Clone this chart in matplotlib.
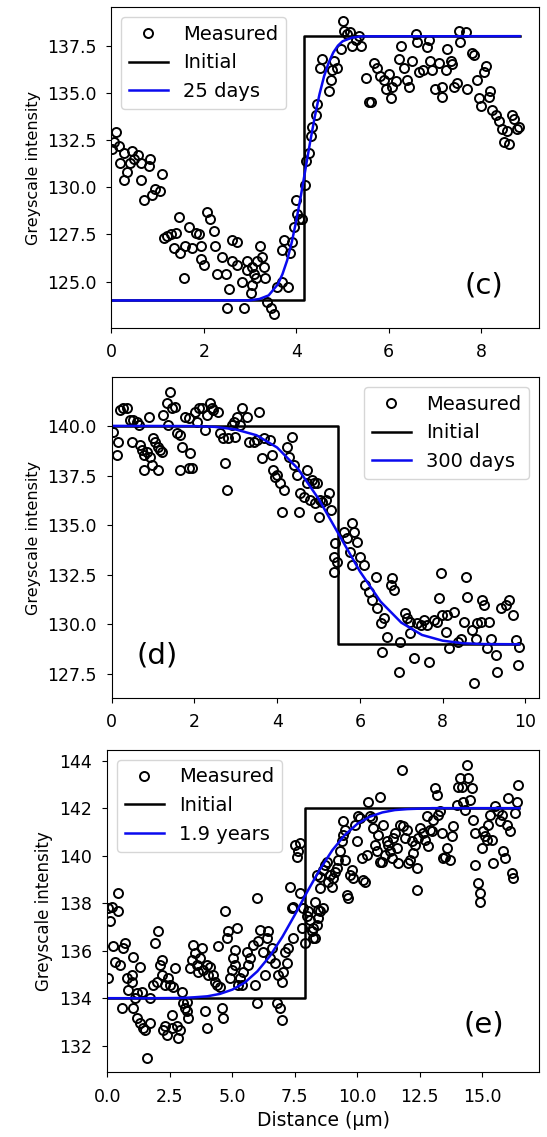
import matplotlib
matplotlib.use('Agg')
import matplotlib.pyplot as plt
from matplotlib.ticker import MultipleLocator

# ---------------- panel (c) : 25 days ----------------
c_x = [0.09, 0.05, 0.16, 0.01, 0.27, 0.45, 0.57, 0.19, 0.40, 0.48, 0.63, 0.84, 0.81, 0.34, 0.28, 0.64, 1.10, 0.95, 1.05, 0.88, 0.70,
       1.13, 1.20, 1.28, 1.39, 1.46, 1.35, 1.49, 1.60, 1.57, 1.67, 1.75, 1.82, 1.89, 1.93, 1.93, 2.00, 2.07, 2.14, 2.22, 2.25,
       2.29, 2.47, 2.40, 2.54, 2.50, 2.61, 2.72, 2.61, 2.72, 2.83, 2.86, 2.94, 2.94, 3.04, 3.08, 3.15, 3.21, 3.26, 3.30, 3.12,
       3.04, 3.01, 3.33, 3.37, 3.46, 3.51, 3.59, 3.69, 3.82, 3.73, 3.69, 3.87, 3.91, 3.95, 4.02, 4.05, 4.13, 4.00, 4.18, 4.20,
       4.27, 4.31, 4.34, 4.42, 4.45,
       4.52, 4.56, 4.70, 4.74, 4.78, 4.81, 4.88, 4.96, 5.01, 5.03, 5.10, 5.17, 5.21, 5.28, 5.35, 5.39, 5.50, 5.57, 5.61, 5.68,
       5.75, 5.82, 5.89, 5.93, 6.00, 6.04, 6.08, 6.15, 6.22, 6.26, 6.33, 6.40, 6.44, 6.51, 6.58, 6.62, 6.65, 6.73, 6.83, 6.87,
       6.90, 6.94, 7.01, 7.08, 7.16, 7.16, 7.23, 7.27, 7.34, 7.37, 7.41, 7.48, 7.52, 7.55, 7.66, 7.70, 7.81, 7.84, 7.91, 7.95,
       7.99, 8.06, 8.10, 8.17, 8.20, 8.24, 8.31, 8.38, 8.46, 8.49, 8.60, 8.67, 8.71, 8.78, 8.82, 8.56]
c_y = [132.9, 132.4, 132.2, 132.0, 131.8, 131.9, 131.7, 131.3, 131.3, 131.5, 131.3, 131.5, 131.1, 130.8, 130.4, 130.4, 130.7, 129.9, 129.8, 129.6, 129.3,
       127.3, 127.4, 127.5, 127.6, 128.4, 126.8, 126.5, 126.9, 125.2, 127.9, 126.8, 127.6, 127.5, 126.9, 126.2, 125.9, 128.7, 128.3, 127.7, 126.9,
       125.4, 125.4, 126.3, 124.6, 123.6, 127.2, 127.1, 126.1, 125.9, 125.0, 123.6, 126.1, 125.6, 125.8, 125.4, 126.1, 126.9, 126.3, 125.8, 125.2,
       124.8, 124.4, 125.2, 123.9, 123.6, 123.3, 124.7, 125.0, 124.7, 127.2, 126.7, 126.5, 127.1, 127.9, 128.6, 128.3, 128.3, 129.3, 130.1, 131.4,
       131.8, 132.7, 133.2, 133.8, 134.4,
       136.3, 136.8, 135.1, 135.7, 136.2, 136.7, 136.3, 137.3, 138.8, 138.3, 138.1, 138.2, 137.5, 137.8, 138.0, 137.5, 135.8, 134.5, 134.5, 136.6,
       136.3, 135.9, 135.7, 135.2, 136.0, 134.7, 135.3, 135.6, 136.8, 137.5, 136.3, 135.7, 135.3, 136.7, 138.1, 137.7, 136.1, 136.2, 137.4, 137.8,
       136.7, 136.2, 135.2, 136.6, 134.8, 135.3, 136.2, 137.3, 136.7, 136.5, 135.3, 135.5, 138.3, 137.7, 138.2, 135.2, 137.1, 137.0, 135.7, 134.7,
       134.3, 136.1, 136.4, 134.8, 135.1, 134.1, 133.8, 133.5, 133.1, 132.4, 132.3, 133.8, 133.6, 133.1, 133.2, 133.0]
c_init_x = [0, 4.17, 4.17, 8.83]
c_init_y = [124, 124, 138, 138]
c_fit_x = [0, 3.0, 3.2, 3.4, 3.6, 3.7, 3.8, 3.9, 4.0, 4.1, 4.2, 4.3, 4.4, 4.5, 4.6, 4.7, 4.8, 4.9, 5.0, 5.2, 5.4, 8.83]
c_fit_y = [124.0, 124.01, 124.08, 124.27, 124.86, 125.40, 126.12, 127.08, 128.25, 129.58, 131.0, 132.42, 133.75, 134.92,
           135.88, 136.60, 137.14, 137.50, 137.73, 137.92, 137.99, 138.0]

# ---------------- panel (d) : 300 days ----------------
d_x = [0.04, 0.16, 0.12, 0.20, 0.28, 0.36, 0.44, 0.48, 0.52, 0.61, 0.65, 0.69, 0.73, 0.77, 0.85, 0.89, 0.93, 0.97, 0.77, 1.01,
       1.05, 1.13, 1.17, 1.21, 1.13, 1.25, 1.33, 1.41, 1.45, 1.53, 1.37, 1.57, 1.65, 1.69, 1.78, 1.86, 1.90, 1.65, 1.86, 1.94,
       2.02, 2.06, 2.10, 2.18, 2.26, 2.30, 2.38, 2.42, 2.46, 2.58, 2.62, 2.70, 2.74, 2.78, 2.82, 2.91, 2.95, 2.99, 3.03, 3.11,
       3.15, 3.27, 3.31, 3.43, 3.51, 3.55, 3.63, 3.67, 3.83, 3.87, 3.91, 3.95, 4.00, 4.08, 4.16, 4.12, 4.24, 4.28, 4.36, 4.40,
       4.48, 4.52, 4.56, 4.64, 4.72, 4.72, 4.80, 4.92, 4.88, 5.00, 5.04,
       4.84, 4.96, 5.08, 5.17, 5.25, 5.29, 5.41, 5.37, 5.45, 5.37, 5.61, 5.69, 5.81, 5.85, 5.93, 5.77, 5.81, 6.01, 6.09, 6.13,
       6.21, 6.29, 6.38, 6.42, 6.50, 6.58, 6.66, 6.54, 6.74, 6.78, 6.82, 6.94, 6.98, 7.10, 7.14, 7.22, 7.22, 7.31, 7.39, 7.47,
       7.55, 7.63, 7.67, 7.79, 7.87, 7.95, 7.91, 7.99, 8.07, 8.11, 8.15, 8.27, 8.36, 8.44, 8.52, 8.56, 8.60, 8.72, 8.76, 8.80,
       8.84, 8.92, 8.96, 9.00, 9.08, 9.12, 9.16, 9.28, 9.32, 9.40, 9.52, 9.60, 9.69, 9.77, 9.81, 9.85]
d_y = [139.71, 139.21, 138.54, 140.81, 140.89, 140.89, 140.30, 139.21, 140.30, 140.22, 140.05, 139.04, 138.79, 138.54, 138.71,
       140.47, 138.45, 138.03, 137.78, 139.38, 139.21, 138.96, 138.79, 138.71, 137.78, 140.55, 141.14, 141.73, 140.89, 140.97,
       140.05, 139.63, 139.55, 138.96, 140.47, 140.39, 138.62, 137.78, 137.87, 137.87, 140.72, 140.22, 140.89, 140.89, 139.80,
       140.55, 141.14, 140.89, 140.81, 140.72, 139.63, 139.38, 138.12, 136.77, 139.38, 140.05, 140.22, 139.46, 140.47, 140.05,
       140.89, 140.47, 139.21, 139.21, 139.29, 140.72, 138.37, 139.38, 139.29, 138.54, 137.78, 137.45, 137.53, 137.11, 136.77,
       135.68, 138.96, 138.45, 139.46, 138.03, 137.53, 135.68, 136.61, 136.44, 137.78, 137.11, 136.27, 136.10, 137.11, 135.43,
       136.27,
       137.28, 137.11, 136.18, 136.27, 136.61, 135.76, 134.08, 133.41, 133.16, 132.66, 134.67, 134.34, 135.09, 134.67, 134.17,
       133.66, 132.99, 133.41, 132.99, 131.98, 131.65, 131.23, 132.40, 130.81, 130.05, 130.30, 129.38, 128.62, 131.98, 132.32,
       131.73, 127.61, 129.13, 130.55, 130.30, 130.13, 129.55, 128.29, 130.05, 129.97, 130.22, 129.97, 128.12, 130.22, 130.13,
       132.57, 131.31, 130.47, 129.63, 130.47, 128.79, 130.64, 129.13, 129.29, 130.13, 132.40, 131.39, 129.71, 127.03, 129.29,
       130.05, 130.13, 131.23, 130.97, 128.79, 130.13, 129.29, 128.45, 127.61, 130.81, 130.97, 131.23, 130.47, 129.21, 127.95,
       128.87]
d_init_x = [0, 5.46, 5.46, 9.84]
d_init_y = [140, 140, 129, 129]
d_fit_x = [0, 2.0, 2.5, 3.0, 3.5, 4.0, 4.5, 5.0, 5.5, 6.0, 6.5, 7.0, 7.5, 8.0, 8.5, 9.0, 9.84]
d_fit_y = [140.0, 139.99, 139.95, 139.82, 139.53, 138.91, 137.85, 136.33, 134.5, 132.67, 131.15, 130.09, 129.47, 129.18,
           129.05, 129.01, 129.0]

# ---------------- panel (e) : 1.9 years ----------------
e_x = [0.04, 0.11, 0.17, 0.44, 0.44, 0.04, 0.24, 0.31, 0.51, 0.57, 0.64, 0.71, 0.77, 0.84, 0.97, 1.04, 0.97, 1.11, 1.17, 1.04,
       1.17, 1.31, 1.37, 1.31, 1.44, 1.51, 1.57, 1.71, 1.71, 1.84, 1.91, 1.97, 2.04, 2.11, 2.17, 2.17, 2.24, 2.31, 2.31, 2.37,
       2.44, 2.51, 2.57, 2.57, 2.64, 2.71, 2.77, 2.84, 2.91, 2.97, 3.04, 3.11, 3.17, 3.20, 3.24, 3.31, 3.37, 3.44, 3.51, 3.57,
       3.64, 3.71, 3.77, 3.84, 3.91, 3.97, 3.97, 4.04, 4.11, 4.24, 4.31, 4.37, 4.44, 4.51, 4.57, 4.64, 4.71, 4.77, 4.84, 4.91,
       4.97, 5.04, 5.11, 5.11, 5.17, 5.24, 5.31, 5.37, 5.44, 5.57, 5.64, 5.71, 5.84, 5.91, 5.97, 5.97, 6.04, 6.11, 6.24, 6.31,
       6.37, 6.44, 6.51, 6.57, 6.71, 6.77, 6.84, 6.91, 6.97, 6.97, 7.04, 7.11, 7.17, 7.24, 7.31, 7.37, 7.44, 7.44, 7.51, 7.57,
       7.64, 7.71, 7.71, 7.77, 7.84, 7.91, 7.97, 8.04, 8.11, 8.24, 8.31, 8.37, 8.44, 8.51,
       8.17, 8.24, 8.37, 8.44, 8.51, 8.64, 8.31, 8.51, 8.64, 8.71, 8.77, 8.84, 8.91, 8.97, 9.04, 9.11, 9.17, 9.24, 9.31, 9.37,
       9.44, 9.51, 9.44, 9.51, 9.57, 9.64, 9.71, 9.77, 9.84, 9.91, 9.97, 10.04, 10.11, 10.17, 10.24, 10.31, 10.37, 10.44, 10.51,
       10.57, 10.64, 10.71, 10.77, 10.84, 10.91, 10.91, 10.97, 11.04, 11.11, 11.17, 11.24, 11.31, 11.37, 11.44, 11.51, 11.57,
       11.64, 11.71, 11.77, 11.84, 11.91, 11.97, 12.04, 12.11, 12.17, 12.24, 12.31, 12.37, 12.37, 12.44, 12.51, 12.64, 12.71,
       12.77, 12.84, 12.91, 12.97, 13.04, 13.11, 13.17, 13.24, 13.31, 13.37, 13.44, 13.51, 13.57, 13.71, 13.77, 13.84, 13.97,
       14.04, 14.11, 14.17, 14.24, 14.31, 14.37, 14.44, 14.51, 14.57, 14.64, 14.71, 14.71, 14.84, 14.91, 14.91, 14.97, 15.04,
       15.11, 15.17, 15.24, 15.31, 15.37, 15.44, 15.51, 15.64, 15.71, 15.77, 15.84, 15.91, 15.97, 16.04, 16.11, 16.17, 16.24,
       16.31, 16.37, 16.44]
e_y = [137.79, 137.23, 137.86, 137.65, 138.42, 134.84, 136.18, 135.54, 135.40, 133.58, 136.11, 136.32, 134.84, 134.35, 134.98,
       135.75, 134.70, 134.00, 134.21, 133.58, 133.16, 135.33, 134.28, 132.95, 132.74, 132.67, 131.47, 132.95, 134.00, 134.56,
       136.32, 134.70, 136.81, 135.40, 134.98, 135.61, 132.67, 132.81, 134.56, 132.46, 134.84, 134.56, 133.30, 132.74, 134.49,
       135.26, 132.81, 132.32, 132.67, 134.28, 133.79, 133.58, 133.86, 133.44, 133.16, 135.26, 135.61, 136.25, 135.89, 135.40,
       135.12, 135.68, 136.11, 135.19, 133.44, 132.74, 135.40, 134.98, 135.33, 134.98, 134.70, 134.56, 136.18, 134.49, 133.58,
       133.16, 137.65, 136.53, 136.81, 134.84, 135.19, 135.68, 136.04, 135.40, 136.95, 134.56, 134.84, 134.56, 135.12, 135.96,
       135.40, 135.68, 136.25, 134.56, 133.79, 138.21, 136.39, 136.88, 135.96, 134.98, 136.53, 136.81, 135.68, 136.11, 135.47,
       133.79, 134.98, 133.58, 133.09, 134.70, 135.12, 135.96, 135.47, 136.11, 138.70, 137.79, 137.86, 136.53, 140.46, 139.96,
       140.18, 140.53, 138.42, 136.95, 137.79, 136.32, 137.44, 137.65, 137.30, 136.95, 136.53, 139.19, 137.72, 138.63,
       136.81, 136.53, 137.09, 137.37, 137.65, 137.79, 138.07, 139.12, 139.40, 139.61, 139.75, 138.91, 139.19, 138.70, 139.05,
       139.33, 139.47, 139.82, 140.18, 140.60, 140.88, 141.09, 141.44, 139.82, 138.35, 138.21, 139.19, 139.40, 139.05, 141.30,
       140.60, 141.65, 141.58, 139.89, 138.98, 138.91, 140.04, 142.28, 141.65, 141.58, 141.16, 140.46, 140.18, 140.88, 142.49,
       139.75, 139.75, 141.30, 140.04, 140.60, 140.46, 140.18, 139.89, 140.74, 140.95, 140.32, 139.68, 141.30, 143.61, 141.23,
       140.74, 141.09, 139.68, 139.82, 140.60, 140.11, 140.46, 139.47, 138.56, 140.74, 141.16, 140.95, 140.67, 141.65, 140.39,
       141.09, 141.02, 141.51, 142.84, 142.56, 141.72, 141.86, 140.95, 139.89, 139.96, 140.32, 139.82, 140.81, 141.23, 142.14,
       142.91, 143.26, 142.91, 142.28, 141.93, 143.82, 143.26, 142.35, 142.84, 141.51, 140.95, 139.61, 138.84, 138.42, 138.07,
       140.32, 141.02, 140.81, 140.67, 141.30, 141.72, 140.67, 139.68, 142.07, 141.86, 141.44, 141.72, 140.18, 139.89, 141.30,
       142.42, 141.02, 139.26, 139.05, 141.79, 142.28, 142.98]
e_init_x = [0, 7.9, 7.9, 16.48]
e_init_y = [134, 134, 142, 142]
e_fit_x = [0, 2, 3, 3.5, 4, 4.5, 5, 5.5, 6, 6.5, 7, 7.5, 8, 8.5, 9, 9.5, 10, 10.5, 11, 11.5, 12, 13, 16.48]
e_fit_y = [134.0, 134.0, 134.01, 134.04, 134.08, 134.18, 134.36, 134.66, 135.13, 135.77, 136.58, 137.51, 138.49, 139.42,
           140.23, 140.87, 141.34, 141.64, 141.82, 141.92, 141.96, 142.0, 142.0]

fig = plt.figure(figsize=(5.47, 11.37), dpi=100)

panels = [
    # x, y, initial, fit, label, letter, legend loc, rect, xlim, ylim, ytick step, ylabel size, letter pos
    (c_x, c_y, (c_init_x, c_init_y), (c_fit_x, c_fit_y), '25 days', '(c)', 'upper left',
     [0.2038, 0.7118, 0.7816, 0.2818], (0, 9.25), (122.56, 139.53), 2.5, 11.5, (0.871, 0.133)),
    (d_x, d_y, (d_init_x, d_init_y), (d_fit_x, d_fit_y), '300 days', '(d)', 'upper right',
     [0.2042, 0.3864, 0.7812, 0.2818], (0, 10.33), (126.31, 142.45), 2.5, 11.5, (0.107, 0.133)),
    (e_x, e_y, (e_init_x, e_init_y), (e_fit_x, e_fit_y), '1.9 years', '(e)', 'upper left',
     [0.1962, 0.0569, 0.7898, 0.2835], (0, 17.28), (130.88, 144.45), 2, 12, (0.872, 0.147)),
]

for px, py, init, fit, lab, letter, loc, rect, xl, yl, ystep, lfs, lpos in panels:
    ax = fig.add_axes(rect)
    ax.plot(px, py, 'o', mfc='none', mec='k', ms=6.5, mew=1.4, label='Measured')
    ax.plot(init[0], init[1], 'k', lw=1.8, label='Initial')
    ax.plot(fit[0], fit[1], color='#0a0aef', lw=1.8, label=lab)
    ax.set_xlim(*xl)
    ax.set_ylim(*yl)
    ax.yaxis.set_major_locator(MultipleLocator(ystep))
    ax.tick_params(labelsize=12.5, pad=7.5)
    ax.set_ylabel('Greyscale intensity', fontsize=lfs)
    ax.legend(loc=loc, fontsize=14)
    ax.text(lpos[0], lpos[1], letter, transform=ax.transAxes, fontsize=21, ha='center', va='center')
    last = ax

last.set_xlabel('Distance (µm)', fontsize=13.5)

plt.savefig('out.png')
